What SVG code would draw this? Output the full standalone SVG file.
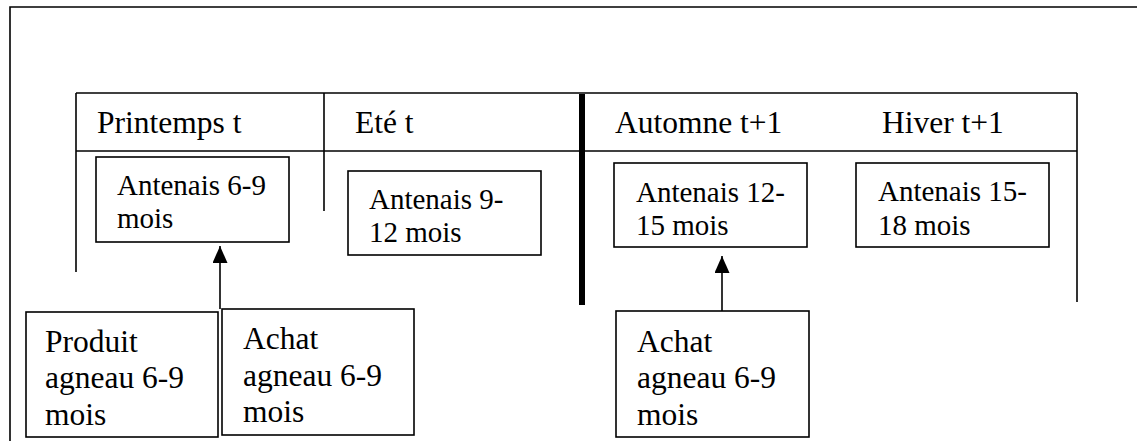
<svg xmlns="http://www.w3.org/2000/svg" width="1137" height="441" viewBox="0 0 1137 441">
<style>
.ln{stroke:#000;stroke-width:1.6;fill:none}
.bx{stroke:#000;stroke-width:1.6;fill:#fff}
text{font-family:"Liberation Serif","Times New Roman",serif;fill:#000}
.hd{font-size:31.5px}
.tp{font-size:29px}
.bt{font-size:31.5px}
</style>
<defs>
<marker id="ah" markerWidth="17" markerHeight="15" refX="17" refY="7.5" orient="auto" markerUnits="userSpaceOnUse" viewBox="0 0 17 15">
<path d="M0,0 L17,7.5 L0,15 Z" fill="#000"/>
</marker>
</defs>
<rect width="1137" height="441" fill="#fff"/>
<g id="frame">
<polyline class="ln" points="10,441 10,7 1137,7"/>
</g>
<g id="table">
<line class="ln" x1="76" y1="93" x2="1077" y2="93"/>
<line class="ln" x1="76" y1="151" x2="1077" y2="151"/>
<line class="ln" x1="76" y1="93" x2="76" y2="272"/>
<line class="ln" x1="324" y1="93" x2="324" y2="211"/>
<line class="ln" x1="1077" y1="93" x2="1077" y2="302"/>
<line x1="582" y1="94" x2="582" y2="305" stroke="#000" stroke-width="6"/>
<text class="hd" x="97" y="133">Printemps t</text>
<text class="hd" x="355" y="133">Eté t</text>
<text class="hd" x="615" y="133">Automne t+1</text>
<text class="hd" x="882" y="133">Hiver t+1</text>
</g>
<g id="connectors">
<line class="ln" x1="220" y1="309" x2="220" y2="246" marker-end="url(#ah)"/>
<line class="ln" x1="722" y1="311" x2="722" y2="256" marker-end="url(#ah)"/>
</g>
<g id="antenais-6-9">
<rect class="bx" x="96" y="157" width="193" height="85"/>
<text class="tp" x="117" y="195">Antenais 6-9</text>
<text class="tp" x="117" y="228">mois</text>
</g>
<g id="antenais-9-12">
<rect class="bx" x="348" y="171" width="193" height="84"/>
<text class="tp" x="369" y="209">Antenais 9-</text>
<text class="tp" x="369" y="242">12 mois</text>
</g>
<g id="antenais-12-15">
<rect class="bx" x="614" y="163" width="193" height="84"/>
<text class="tp" x="636" y="202">Antenais 12-</text>
<text class="tp" x="636" y="235">15 mois</text>
</g>
<g id="antenais-15-18">
<rect class="bx" x="856" y="163" width="193" height="84"/>
<text class="tp" x="878" y="201">Antenais 15-</text>
<text class="tp" x="878" y="235">18 mois</text>
</g>
<g id="produit">
<rect class="bx" x="26" y="312" width="192" height="125"/>
<text class="bt" x="45" y="352">Produit</text>
<text class="bt" x="45" y="388">agneau 6-9</text>
<text class="bt" x="45" y="425">mois</text>
</g>
<g id="achat-1">
<rect class="bx" x="222" y="309" width="192" height="126"/>
<text class="bt" x="243" y="349">Achat</text>
<text class="bt" x="243" y="386">agneau 6-9</text>
<text class="bt" x="243" y="422">mois</text>
</g>
<g id="achat-2">
<rect class="bx" x="616" y="311" width="193" height="126"/>
<text class="bt" x="637" y="352">Achat</text>
<text class="bt" x="637" y="388">agneau 6-9</text>
<text class="bt" x="637" y="425">mois</text>
</g>
</svg>
